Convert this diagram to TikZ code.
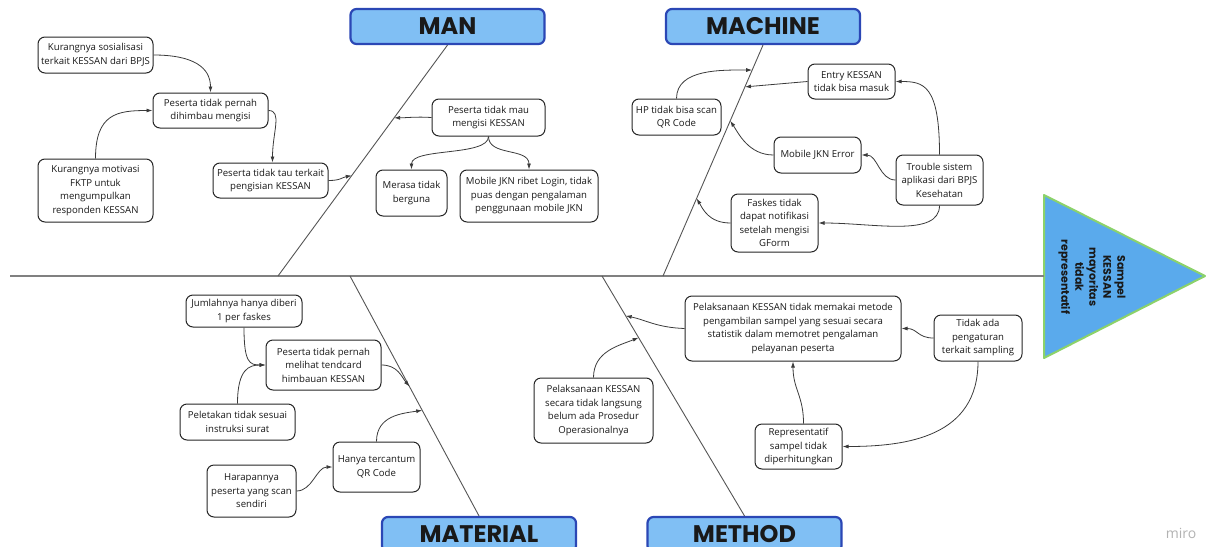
\documentclass[tikz,border=0pt]{standalone}
\usepackage{fontspec}
\setmainfont{Open Sans}
\newfontfamily\headfont{Poppins}
\usetikzlibrary{
  calc,
  positioning,
  arrows.meta}

\definecolor{headfill}{HTML}{80BFF4}
\definecolor{headline}{HTML}{2B47B5}
\definecolor{efffill}{HTML}{5AAAEC}
\definecolor{effline}{HTML}{8CD26A}
\definecolor{boneline}{HTML}{555555}
\definecolor{linkline}{HTML}{3A3A3A}

\tikzset{
  header/.style={
    rectangle,
    rounded corners=6pt,
    fill=headfill,
    draw=headline,
    line width=2.2pt,
    minimum width=194pt,
    minimum height=35pt,
    font=\headfont\bfseries\fontsize{24}{26}\selectfont,
    text=black!90
  },
  cause/.style={
    rectangle,
    rounded corners=7pt,
    fill=white,
    draw=black!85,
    line width=1pt,
    inner sep=1pt,
    align=center,
    font=\fontsize{9.6}{13.5}\selectfont,
    text=black!90
  },
  bone/.style={
    draw=boneline,
    line width=0.9pt
  },
  link/.style={
    draw=linkline,
    line width=0.8pt,
    -{Latex[length=6pt,width=4pt]}
  }
}

\begin{document}
\begin{tikzpicture}[x=1pt,y=-1pt]
  \useasboundingbox (0,0) rectangle (1206,546);
  \clip (0,0) rectangle (1206,546);

  % Effect
  \fill[efffill]
    (1044,195) -- (1205,276) -- (1044,358) -- cycle;
  \draw[
    effline,
    line width=2pt,
    line join=round
  ] (1044,195) coordinate (effW) -- (1205,276) -- (1044,358) -- cycle;
  \coordinate (effIn) at (1044,276);
  \node[
    rotate=-90,
    align=center,
    font=\headfont\bfseries\fontsize{11}{14}\selectfont,
    text=black!90
  ] (effect) at (1092,277) {Sampel\\KESSAN\\mayoritas\\tidak\\representatif};

  % Spine
  \coordinate (spineL) at (10,276);
  \draw[
    draw=black!50,
    line width=1.1pt
  ] (spineL) -- (effIn);

  % Headers
  \node[header] (man) at (447.5,26.5) {MAN};
  \node[header] (machine) at (763,26.5) {MACHINE};
  \node[header] (material) at (479,534.5) {MATERIAL};
  \node[header] (method) at (744.5,534.5) {METHOD};

  % Bones
  \coordinate (manEnd) at (278,276);
  \coordinate (machEnd) at (663,276);
  \coordinate (matEnd) at (350,276);
  \coordinate (metEnd) at (602,276);

  \draw[bone] (man.south) -- (manEnd);
  \draw[bone] (machine.south) -- (machEnd);
  \draw[bone] (matEnd) -- (material.north);
  \draw[bone] (metEnd) -- (method.north);

  \coordinate (manP1) at ($(man.south)!0.565!(manEnd)$);
  \coordinate (manP2) at ($(man.south)!0.315!(manEnd)$);
  \coordinate (machP1) at ($(machine.south)!0.108!(machEnd)$);
  \coordinate (machP2) at ($(machine.south)!0.181!(machEnd)$);
  \coordinate (machP3) at ($(machine.south)!0.328!(machEnd)$);
  \coordinate (machP4) at ($(machine.south)!0.664!(machEnd)$);
  \coordinate (matP1) at ($(matEnd)!0.461!(material.north)$);
  \coordinate (matP2) at ($(matEnd)!0.560!(material.north)$);
  \coordinate (metP1) at ($(metEnd)!0.166!(method.north)$);
  \coordinate (metP2) at ($(metEnd)!0.257!(method.north)$);

  % Man
  \node[
    cause,
    minimum width=115pt,
    minimum height=36pt
  ] (manA) at (95.5,55) {Kurangnya sosialisasi\\terkait KESSAN dari BPJS};
  \node[
    cause,
    minimum width=115pt,
    minimum height=35pt
  ] (manB) at (210.5,110.5) {Peserta tidak pernah\\dihimbau mengisi};
  \node[
    cause,
    minimum width=115pt,
    minimum height=63pt
  ] (manC) at (95.5,190.5) {Kurangnya motivasi\\FKTP untuk\\mengumpulkan\\responden KESSAN};
  \node[
    cause,
    minimum width=115pt,
    minimum height=35pt
  ] (manD) at (270.5,180.5) {Peserta tidak tau terkait\\pengisian KESSAN};
  \node[
    cause,
    minimum width=113pt,
    minimum height=37pt
  ] (manE) at (488.5,117.5) {Peserta tidak mau\\mengisi KESSAN};
  \node[
    cause,
    minimum width=71pt,
    minimum height=46pt
  ] (manF) at (411.5,193) {Merasa tidak\\berguna};
  \node[
    cause,
    minimum width=138pt,
    minimum height=52pt
  ] (manG) at (529,196) {Mobile JKN ribet Login, tidak\\puas dengan pengalaman\\penggunaan mobile JKN};

  \draw[link] (manA.east) .. controls +(40,0) and +(0,-25) .. (manB.north);
  \draw[link] (manC.north) .. controls +(0,-45) and +(-35,0) .. (manB.west);
  \draw[link] (manB.east) .. controls +(14,0) and +(0,-30) .. ([xshift=2pt]manD.north);
  \draw[link] (manD.east) .. controls +(12,0) and +(-10,2) .. (manP1);
  \draw[link] (manE.west) .. controls +(-15,-1) and +(12,0) .. (manP2);
  \draw[link] (manE.south) .. controls +(0,20) and +(0,-22) .. (manF.north);
  \draw[link] (manE.south) .. controls +(0,20) and +(0,-22) .. (manG.north);

  % Machine
  \node[
    cause,
    minimum width=89pt,
    minimum height=36pt
  ] (machA) at (676.5,117) {HP tidak bisa scan\\QR Code};
  \node[
    cause,
    minimum width=87pt,
    minimum height=35pt
  ] (machB) at (851.5,81.5) {Entry KESSAN\\tidak bisa masuk};
  \node[
    cause,
    minimum width=87pt,
    minimum height=36pt
  ] (machC) at (817.5,155) {Mobile JKN Error};
  \node[
    cause,
    minimum width=87pt,
    minimum height=50pt
  ] (machD) at (939.5,180) {Trouble sistem\\aplikasi dari BPJS\\Kesehatan};
  \node[
    cause,
    minimum width=87pt,
    minimum height=58pt
  ] (machE) at (774.5,223) {Faskes tidak\\dapat notifikasi\\setelah mengisi\\GForm};

  \draw[link] (machA.north) .. controls +(0,-30) and +(-30,0) .. (machP1);
  \draw[link] (machB.west) -- (machP2);
  \draw[link] (machC.west) .. controls +(-25,0) and +(8,12) .. (machP3);
  \draw[link] (machE.west) .. controls +(-22,0) and +(6,10) .. (machP4);
  \draw[link] (machD.north) .. controls +(0,-70) and +(28,0) .. (machB.east);
  \draw[link] (machD.west) .. controls +(-16,0) and +(16,0) .. (machC.east);
  \draw[link] (machD.south) .. controls +(0,32) and +(55,0) .. (machE.east);

  % Material
  \node[
    cause,
    minimum width=116pt,
    minimum height=32pt
  ] (matA) at (244,311) {Jumlahnya hanya diberi\\1 per faskes};
  \node[
    cause,
    minimum width=115pt,
    minimum height=50pt
  ] (matB) at (323.5,365) {Peserta tidak pernah\\melihat tendcard\\himbauan KESSAN};
  \node[
    cause,
    minimum width=115pt,
    minimum height=36pt
  ] (matC) at (237.5,422) {Peletakan tidak sesuai\\instruksi surat};
  \node[
    cause,
    minimum width=89pt,
    minimum height=52pt
  ] (matD) at (251.5,491) {Harapannya\\peserta yang scan\\sendiri};
  \node[
    cause,
    minimum width=87pt,
    minimum height=50pt
  ] (matE) at (376.5,467) {Hanya tercantum\\QR Code};

  \draw[link] (matA.south) .. controls +(0,35) and +(-16,0) .. (matB.west);
  \draw[link] (matC.north) .. controls +(0,-35) and +(-16,0) .. (matB.west);
  \draw[link] (matB.east) .. controls +(16,0) and +(-8,-10) .. (matP1);
  \draw[link] (matE.north) .. controls +(0,-26) and +(-20,3) .. (matP2);
  \draw[link] (matD.east) .. controls +(16,0) and +(-16,0) .. (matE.west);

  % Method
  \node[
    cause,
    minimum width=216pt,
    minimum height=65pt
  ] (metA) at (793,328.5) {Pelaksanaan KESSAN tidak memakai metode\\pengambilan sampel yang sesuai secara\\statistik dalam memotret pengalaman\\pelayanan peserta};
  \node[
    cause,
    minimum width=119pt,
    minimum height=65pt
  ] (metB) at (593.5,410.5) {Pelaksanaan KESSAN\\secara tidak langsung\\belum ada Prosedur\\Operasionalnya};
  \node[
    cause,
    minimum width=87pt,
    minimum height=45pt
  ] (metC) at (798.5,446.5) {Representatif\\sampel tidak\\diperhitungkan};
  \node[
    cause,
    minimum width=88pt,
    minimum height=46pt
  ] (metD) at (978,338) {Tidak ada\\pengaturan\\terkait sampling};

  \draw[link] (metA.west) .. controls +(-28,-1) and +(20,4) .. (metP1);
  \draw[link] (metB.north) .. controls +(0,-26) and +(-20,8) .. (metP2);
  \draw[link] ([xshift=5pt]metC.north) .. controls +(0,-28) and +(0,28) .. (metA.south);
  \draw[link] (metD.west) .. controls +(-16,0) and +(16,0) .. (metA.east);
  \draw[link] (metD.south) .. controls +(0,75) and +(65,0) .. (metC.east);

  % Watermark
  \node[
    text=black!30,
    font=\fontsize{14}{16}\selectfont
  ] (miro) at (1181,533) {miro};

\end{tikzpicture}
\end{document}
